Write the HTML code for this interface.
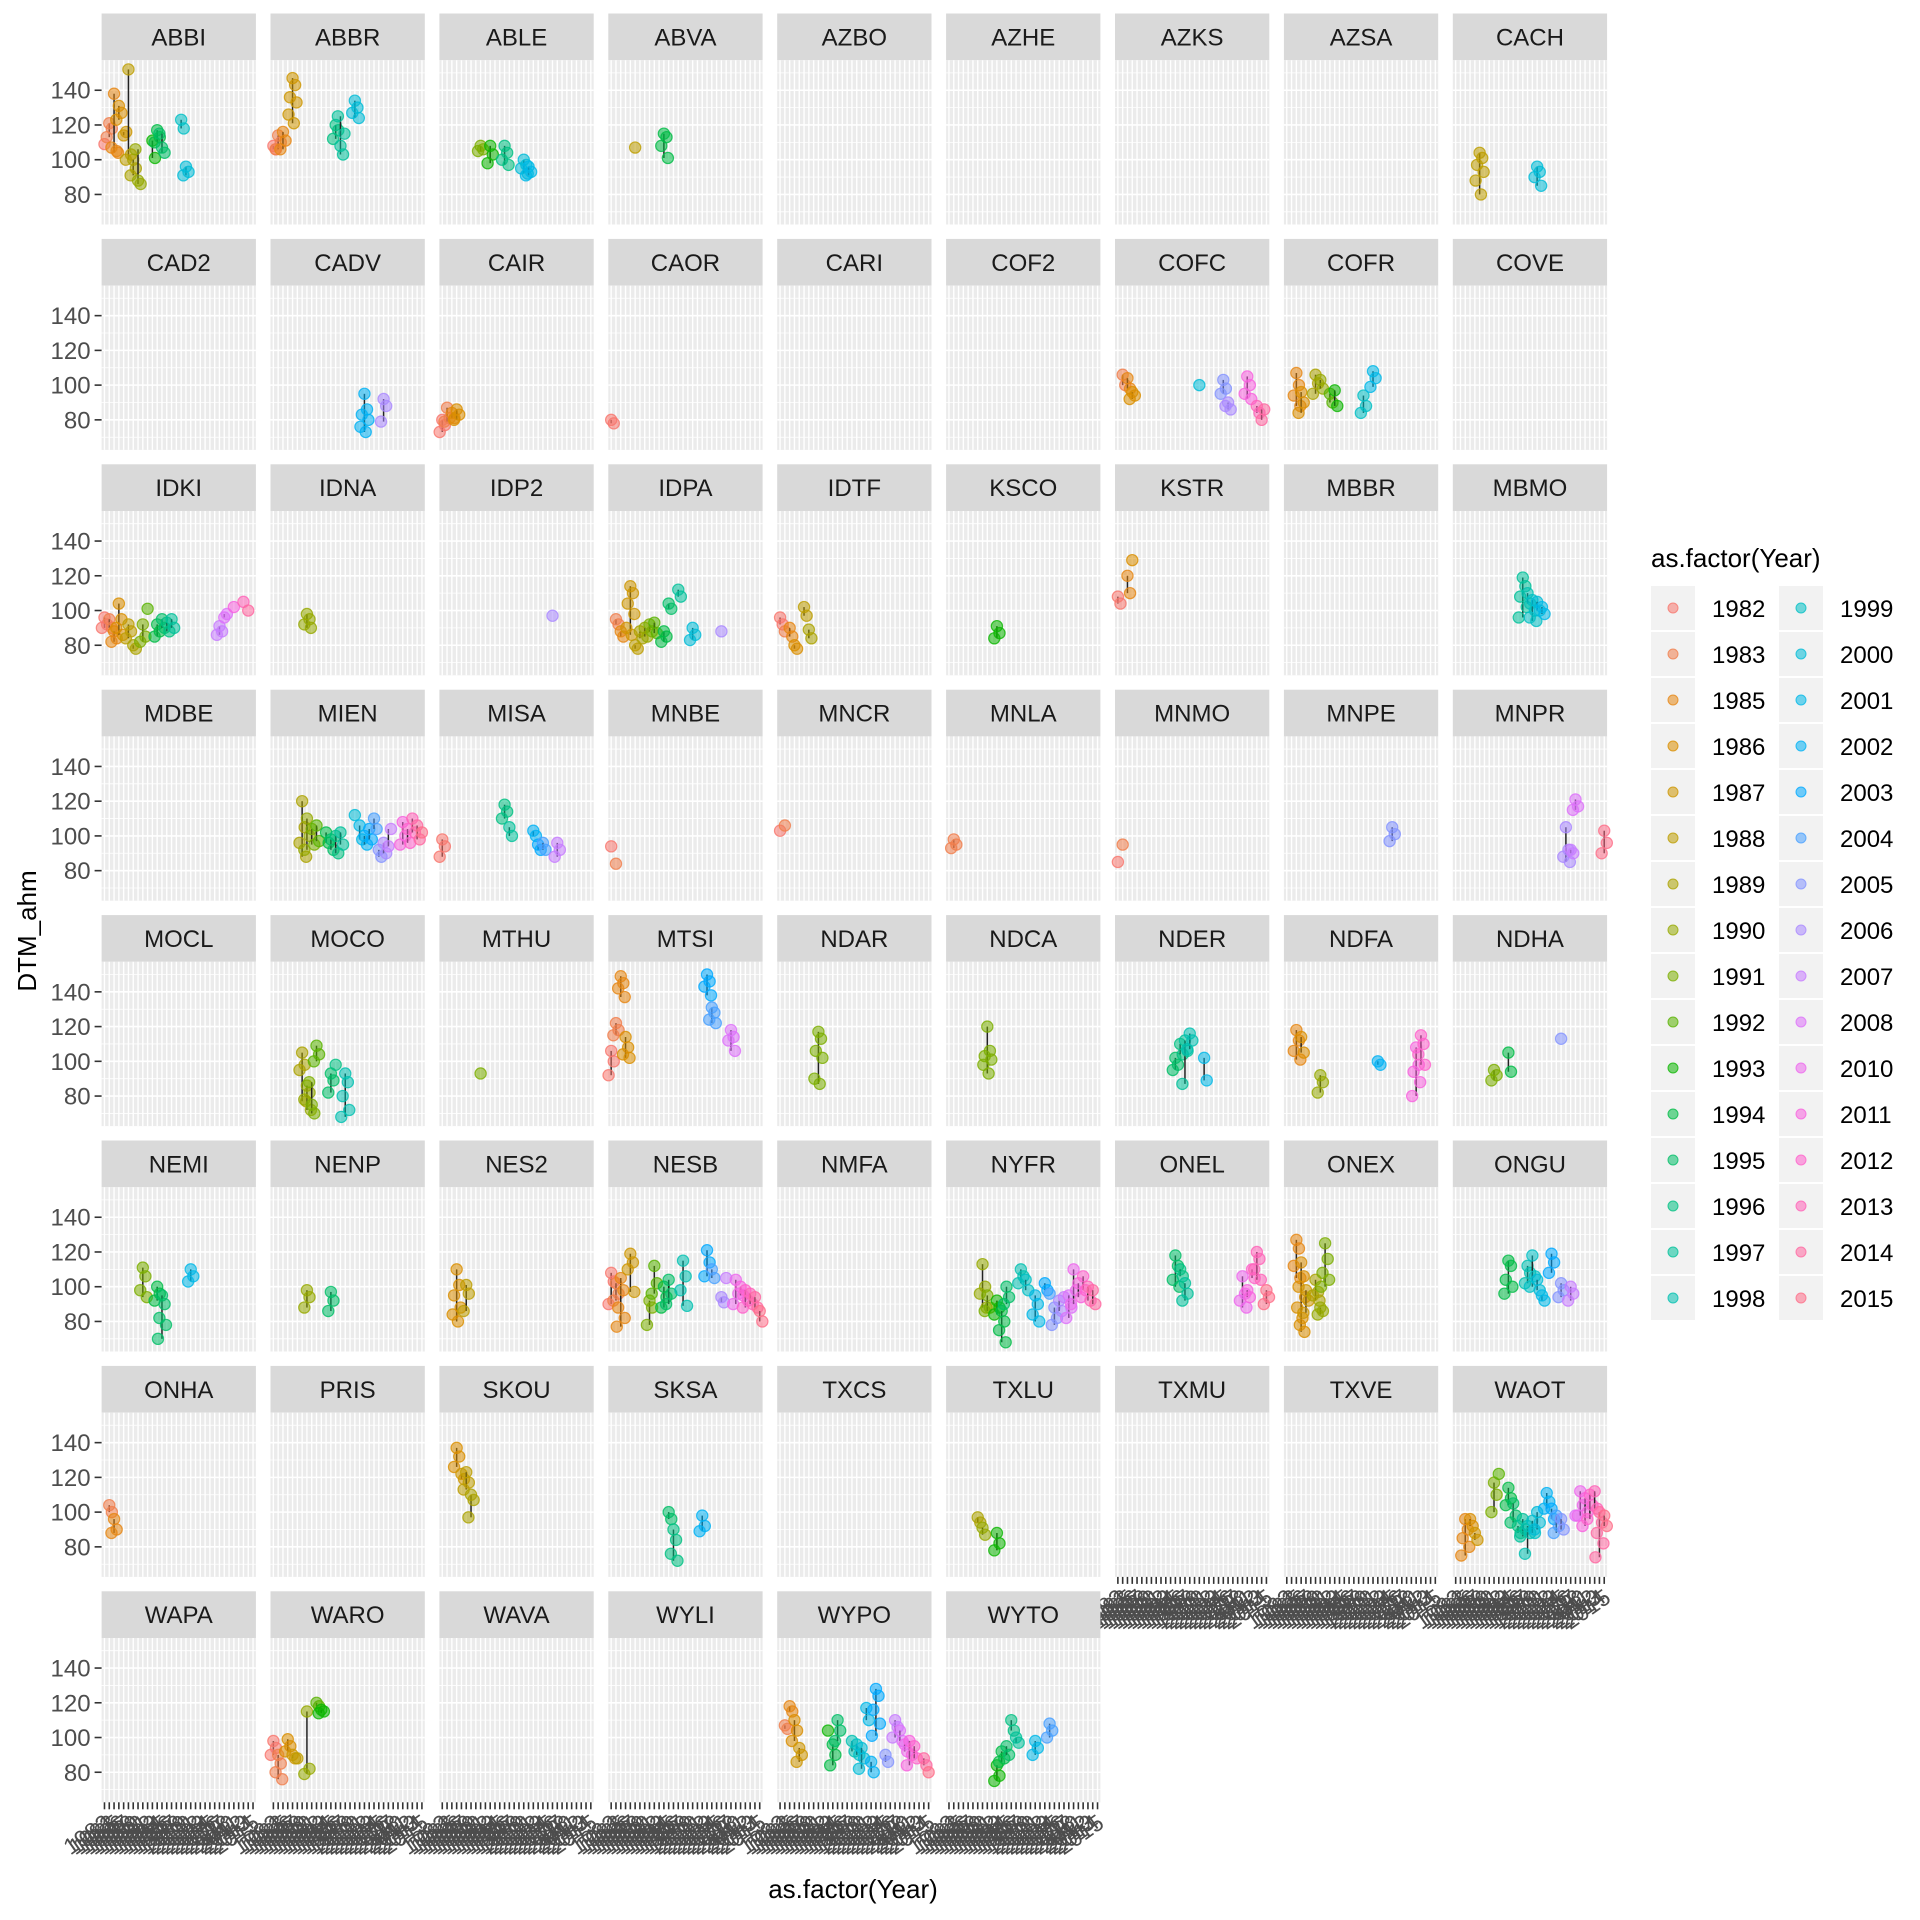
<!DOCTYPE html>
<html>
<head>
<meta charset="utf-8">
<style>
html,body{margin:0;padding:0;background:#fff;}
svg{display:block;font-family:"Liberation Sans",Arial,sans-serif;}
</style>
</head>
<body>
<svg id="chart" width="1920" height="1920" viewBox="0 0 1920 1920" xmlns="http://www.w3.org/2000/svg">
  <rect x="0" y="0" width="1920" height="1920" fill="#ffffff"/>
  <g id="panels"></g>
  <text x="853" y="1898" font-size="26" text-anchor="middle" fill="#000">as.factor(Year)</text>
  <text x="0" y="0" font-size="26" text-anchor="middle" fill="#000" transform="translate(36,931) rotate(-90)">DTM_ahm</text>
  <g id="legend">
    <text x="1651" y="567" font-size="26" fill="#000">as.factor(Year)</text>
  </g>
</svg>
<script>
const years = [1982,1983,1985,1986,1987,1988,1989,1990,1991,1992,1993,1994,1995,1996,1997,1998,1999,2000,2001,2002,2003,2004,2005,2006,2007,2008,2010,2011,2012,2013,2014,2015];
const stations = [
 "ABBI","ABBR","ABLE","ABVA","AZBO","AZHE","AZKS","AZSA","CACH",
 "CAD2","CADV","CAIR","CAOR","CARI","COF2","COFC","COFR","COVE",
 "IDKI","IDNA","IDP2","IDPA","IDTF","KSCO","KSTR","MBBR","MBMO",
 "MDBE","MIEN","MISA","MNBE","MNCR","MNLA","MNMO","MNPE","MNPR",
 "MOCL","MOCO","MTHU","MTSI","NDAR","NDCA","NDER","NDFA","NDHA",
 "NEMI","NENP","NES2","NESB","NMFA","NYFR","ONEL","ONEX","ONGU",
 "ONHA","PRIS","SKOU","SKSA","TXCS","TXLU","TXMU","TXVE","WAOT",
 "WAPA","WARO","WAVA","WYLI","WYPO","WYTO"];
const yTicks = [80,100,120,140];
const yMinor = [70,90,110,130,150];
const obs = {
 ABBI:[[1982,[109]],[1983,[121,118,113]],[1985,[138,105,107,104]],[1986,[131,127,123]],[1987,[114,116]],[1988,[152,103,100]],[1989,[100,95,91]],[1990,[88,86,106]],[1993,[111,101]],[1994,[117,113,110]],[1995,[107,104,115]],[1999,[123,118]],[2000,[96,93,91]]],
 ABBR:[[1982,[108,106]],[1983,[114,110,106]],[1985,[116,111,106]],[1987,[147,143,136,133,126,121]],[1996,[120,117,112]],[1997,[108,103,125,115]],[2000,[134,130,127,124]]],
 ABLE:[[1991,[108,106,105]],[1993,[108,103,98]],[1996,[108,104,100,97]],[2000,[100,97,95,92]],[2001,[96,93,91]]],
 ABVA:[[1988,[107]],[1994,[115,113,108,101]]],
 CACH:[[1988,[104,101,97,93,88,80]],[2000,[96,93,90,85]]],
 CADV:[[2002,[95,86,83,80,76,73]],[2006,[92,88,79]]],
 CAIR:[[1982,[80,77,73]],[1983,[87,81,79]],[1985,[84,81]],[1986,[86,83,80]]],
 CAOR:[[1982,[80,78]]],
 COFC:[[1983,[106,100]],[1985,[104,98]],[1986,[96,94,92]],[2000,[100]],[2005,[103,98,95]],[2006,[90,86,88]],[2011,[105,100,95,92]],[2013,[88,84]],[2014,[80,86]]],
 COFR:[[1985,[107,100,94,88]],[1986,[96,90,84]],[1989,[106,101,95]],[1990,[103,98]],[1992,[95,90]],[1993,[97,88]],[1999,[94,88,84]],[2001,[108,104,99]]],
 IDKI:[[1982,[96,92,90]],[1983,[95,90]],[1985,[88,84,82]],[1986,[104,95,90,86]],[1988,[92,88,84]],[1989,[80,78]],[1991,[92,85,82]],[1992,[101]],[1994,[92,88,85]],[1995,[95,90]],[1996,[93,88]],[1997,[95,90]],[2007,[91,88,86]],[2008,[96,98]],[2011,[102]],[2013,[105]],[2014,[100]]],
 IDNA:[[1990,[98,95,92,90]]],
 IDP2:[[2006,[97]]],
 IDPA:[[1983,[95,92]],[1985,[88,85]],[1987,[114,110,104,98,90,86]],[1988,[80,78]],[1989,[88,84]],[1990,[90,85]],[1991,[92,88]],[1992,[93,87]],[1994,[88,85,82]],[1995,[104,101]],[1997,[112,108]],[2000,[90,86,83]],[2006,[88]]],
 IDTF:[[1982,[96,92]],[1983,[88]],[1985,[90,85]],[1986,[80,78]],[1988,[102,97]],[1989,[89,84]]],
 KSCO:[[1993,[91,87,84]]],
 KSTR:[[1982,[108,104]],[1985,[120,110]],[1986,[129]]],
 MBMO:[[1997,[119,114,108,102,96]],[1998,[110,104]],[1999,[106,100,96,94]],[2000,[105,100]],[2001,[102,98]]],
 MIEN:[[1989,[120,105,96,88]],[1990,[110,100,92]],[1991,[104,95]],[1992,[106,97]],[1994,[102,96]],[1995,[98,92]],[1996,[100,90]],[1997,[102,95]],[2000,[112]],[2001,[106,98]],[2002,[100,95]],[2003,[104,98]],[2004,[110,104]],[2005,[92,88]],[2006,[96,90]],[2007,[94,104]],[2011,[108,100,95]],[2012,[104,96]],[2013,[110,102]],[2014,[106,98]],[2015,[102]]],
 MISA:[[1982,[98,94,88]],[1996,[118,114,110]],[1997,[105,100]],[2002,[103,100]],[2003,[95,92]],[2004,[96,92]],[2007,[96,92,88]]],
 MNBE:[[1982,[94]],[1983,[84]]],
 MNCR:[[1982,[103]],[1983,[106]]],
 MNLA:[[1983,[98,95,93]]],
 MNMO:[[1982,[85]],[1983,[95]]],
 MNPE:[[2005,[105,101,97]]],
 MNPR:[[2006,[105,92,88,85]],[2007,[92,90]],[2008,[121,117,115]],[2015,[103,96,90]]],
 MOCO:[[1989,[105,98,95,77]],[1990,[86,82,78,72]],[1991,[75,70,88]],[1992,[109,104,100]],[1995,[93,89,82]],[1996,[98]],[1998,[93,88,80,72,68]]],
 MTHU:[[1991,[93]]],
 MTSI:[[1982,[106,100,92]],[1983,[122,118,115]],[1985,[149,145,142,137]],[1986,[114,108,104,102]],[2003,[150,146,143,138]],[2004,[131,128,124,122]],[2008,[118,114,112,106]]],
 NDAR:[[1991,[117,113,106,102,90,87]]],
 NDCA:[[1991,[120,106,103,101,98,93]]],
 NDER:[[1995,[102,98,95]],[1996,[110,104]],[1997,[112,106,87]],[1998,[116,112,107]],[2001,[102,89]]],
 NDFA:[[1985,[118,112,106,101]],[1986,[114,105]],[1990,[92,88,82]],[2002,[100,98]],[2011,[108,98,94,88,80]],[2012,[115,110,104,98]]],
 NDHA:[[1991,[95,92,89]],[1994,[105,94]],[2005,[113]]],
 NEMI:[[1991,[111,106,98,94]],[1994,[100,96,92]],[1995,[95,90,82,78,70]],[2001,[110,106,103]]],
 NENP:[[1990,[98,94,88]],[1995,[97,92,86]]],
 NES2:[[1986,[110,101,95,88,84,80]],[1988,[101,96,86]]],
 NESB:[[1982,[108,103,90]],[1983,[102,96,92]],[1985,[105,98,88,82,77]],[1987,[119,114,110,97]],[1991,[92,88,78]],[1992,[112,102,96]],[1994,[100,94,88]],[1995,[104,96,90]],[1998,[115,106,98,89]],[2003,[121,114,106]],[2004,[110,105]],[2006,[94,91]],[2007,[105]],[2010,[104,96,90]],[2011,[100,95]],[2012,[98,92,88]],[2013,[96,90]],[2014,[94,88]],[2015,[86,80]]],
 NYFR:[[1990,[113,100,96,88]],[1991,[95,88,86]],[1993,[92,88,84]],[1994,[86,80,75,68]],[1995,[100,94,90]],[1998,[110,106,102]],[1999,[104,98]],[2001,[95,90,84,80]],[2003,[102,98]],[2004,[96]],[2005,[88,82,78]],[2006,[92,86]],[2007,[94]],[2008,[95,88,82]],[2010,[110,98,90]],[2011,[102,94]],[2012,[106,98]],[2013,[100,92]],[2014,[98,90]]],
 ONEL:[[1995,[118,112,104,100]],[1996,[110,106]],[1997,[102,96,92]],[2010,[106,96,92,88]],[2011,[98,94]],[2012,[110,105]],[2013,[120,116,110,104]],[2015,[98,94,90]]],
 ONEX:[[1985,[127,122,112,105]],[1986,[114,106,100,94,88,82,78,74]],[1987,[98,92,85]],[1989,[104,97,95,92]],[1990,[88,86,84]],[1991,[125,116,108,104,100]]],
 ONGU:[[1994,[115,112,104,100,96]],[1998,[112,108,102]],[1999,[118,106,100]],[2000,[104,98]],[2001,[95,92]],[2003,[119,114,108]],[2005,[102,98,94]],[2007,[100,96,92]]],
 ONHA:[[1983,[104,100]],[1985,[96,90,88]]],
 SKOU:[[1986,[137,132,126]],[1987,[122,119]],[1988,[123,117,113]],[1989,[110,107,97]]],
 SKSA:[[1995,[100,96]],[1996,[90,84,76,72]],[2002,[98,92,89]]],
 TXLU:[[1989,[97,94]],[1990,[91,87]],[1993,[88,82,78]]],
 WAOT:[[1985,[96,90,85,80,75]],[1986,[96,92]],[1987,[88,84]],[1991,[117,110,100]],[1992,[122]],[1994,[114,108,104]],[1995,[105,98,94]],[1996,[92,88]],[1997,[96,90,86]],[1998,[92,88,76]],[1999,[95,88]],[2000,[100,94,90]],[2002,[111,106,102]],[2003,[102,96]],[2004,[98,92,88]],[2005,[96,90]],[2008,[98]],[2010,[112,104,98]],[2011,[108,100,92]],[2012,[110,104,96]],[2013,[112,102]],[2014,[100,94,88,82,74]],[2015,[98,92]]],
 WARO:[[1982,[98,94,90]],[1983,[90,85,80,76]],[1986,[99,95,92]],[1987,[90,88]],[1988,[88]],[1990,[115,82,79]],[1992,[120,118]],[1993,[116,115,114]]],
 WYPO:[[1983,[107,105]],[1985,[118,115]],[1986,[110,104,98]],[1987,[94,90,86]],[1993,[104]],[1994,[96,90,84]],[1995,[110,104,98]],[1998,[98,92]],[1999,[96,90]],[2000,[94,88,82]],[2001,[117,110]],[2002,[86,80]],[2003,[128,124,116,108,101]],[2005,[90,86]],[2007,[110,106,100]],[2008,[104,98]],[2010,[96,92]],[2011,[98,90,84]],[2012,[95,88]],[2014,[88,84]],[2015,[80]]],
 WYTO:[[1993,[84,78,75]],[1994,[92,88,86]],[1995,[95,90]],[1996,[110,104]],[1997,[100,97]],[2001,[98,94,90]],[2004,[108,104,100]]]
};

const NS = "http://www.w3.org/2000/svg";
const NCOL = 9, X0 = 101.6, DX = 168.9, PW = 154.3;
const Y0 = 13.5, DY = 225.4, SH = 46.7, PH = 164.3;
const YMIN = 62.7, YMAX = 157.3;

function hcl2hex(h, c, l) {
  const hr = h * Math.PI / 180;
  const u = c * Math.cos(hr), v = c * Math.sin(hr);
  const Xn = 95.047, Yn = 100, Zn = 108.883;
  const un = 4 * Xn / (Xn + 15 * Yn + 3 * Zn), vn = 9 * Yn / (Xn + 15 * Yn + 3 * Zn);
  const Y = Yn * Math.pow((l + 16) / 116, 3);
  const up = u / (13 * l) + un, vp = v / (13 * l) + vn;
  const X = 9 * Y * up / (4 * vp);
  const Z = -X / 3 - 5 * Y + 3 * Y / vp;
  const x = X / 100, y = Y / 100, z = Z / 100;
  let r = 3.240479 * x - 1.537150 * y - 0.498535 * z;
  let g = -0.969256 * x + 1.875992 * y + 0.041556 * z;
  let b = 0.055648 * x - 0.204043 * y + 1.057311 * z;
  const gam = t => { t = t <= 0.0031308 ? 12.92 * t : 1.055 * Math.pow(t, 1 / 2.4) - 0.055; return Math.max(0, Math.min(255, Math.round(t * 255))); };
  return "rgb(" + gam(r) + "," + gam(g) + "," + gam(b) + ")";
}
const palette = years.map((yr, i) => hcl2hex(15 + 360 * i / years.length, 100, 65));

function mk(tag, attrs, parent) {
  const e = document.createElementNS(NS, tag);
  for (const k in attrs) e.setAttribute(k, attrs[k]);
  if (parent) parent.appendChild(e);
  return e;
}
function xScale(c, yr) {
  const k = years.indexOf(yr);
  return X0 + c * DX + (k + 1 - 0.4) / (years.length + 0.2) * PW;
}
function yScale(r, v) {
  return Y0 + r * DY + SH + (YMAX - v) / (YMAX - YMIN) * PH;
}

const root = document.getElementById("panels");
const jit = [0, 2.6, -2.6, 4, -4, 1.3, -1.3, 3.3];

stations.forEach((st, idx) => {
  const r = Math.floor(idx / NCOL), c = idx % NCOL;
  const g = mk("g", {}, root);
  
  
  const px = X0 + c * DX, sy = Y0 + r * DY, py = sy + SH;
  const strip = mk("rect", {x: px, y: sy, width: PW, height: SH, fill: "#D9D9D9"}, g);
  
  
  const st_t = mk("text", {x: px + PW / 2, y: sy + SH / 2 + 8.5, "font-size": 24, "text-anchor": "middle", fill: "#1A1A1A"}, g);
  st_t.textContent = st;
  
  
  const bg = mk("rect", {x: px, y: py, width: PW, height: PH, fill: "#EBEBEB"}, g);
  
  
  yMinor.forEach(v => { const y = yScale(r, v); mk("line", {x1: px, x2: px + PW, y1: y, y2: y, stroke: "#fff", "stroke-width": 0.8}, g); });
  yTicks.forEach(v => { const y = yScale(r, v); mk("line", {x1: px, x2: px + PW, y1: y, y2: y, stroke: "#fff", "stroke-width": 1.6}, g); });
  years.forEach(yr => { const x = xScale(c, yr); mk("line", {x1: x, x2: x, y1: py, y2: py + PH, stroke: "#fff", "stroke-width": 1.4}, g); });
  if (c === 0) {
    yTicks.forEach(v => {
      const y = yScale(r, v);
      mk("line", {x1: px - 7, x2: px, y1: y, y2: y, stroke: "#333", "stroke-width": 1.6}, g);
      const t = mk("text", {x: px - 11, y: y + 8.5, "font-size": 24, "text-anchor": "end", fill: "#4D4D4D"}, g);
      t.textContent = v;
      
      
    });
  }
  const isBottom = (idx + NCOL >= stations.length);
  if (isBottom) {
    years.forEach(yr => {
      const x = xScale(c, yr);
      mk("line", {x1: x, x2: x, y1: py + PH, y2: py + PH + 7, stroke: "#333", "stroke-width": 1.6}, g);
      const ax = x + 8, ay = py + PH + 24;
      const t = mk("text", {x: ax, y: ay, "font-size": 23, "text-anchor": "end", fill: "#4D4D4D", transform: "rotate(-35 " + ax + " " + ay + ")"}, g);
      t.textContent = yr;
      
      
    });
  }
  const groups = obs[st] || [];
  groups.forEach(([yr, vals]) => {
    const k = years.indexOf(yr);
    const col = palette[k];
    const x = xScale(c, yr);
    if (vals.length > 1) {
      const lo = Math.min(...vals), hi = Math.max(...vals);
      const ln = mk("line", {x1: x, x2: x, y1: yScale(r, hi), y2: yScale(r, lo), stroke: "#222", "stroke-width": 1.5}, g);
      
      
    }
    vals.forEach((v, i) => {
      const pt = mk("circle", {cx: x + jit[i % jit.length], cy: yScale(r, v), r: 5.6, fill: col, "fill-opacity": 0.55, stroke: col, "stroke-opacity": 0.8, "stroke-width": 1.2}, g);
      
      
    });
  });
});

const leg = document.getElementById("legend");
years.forEach((yr, i) => {
  const colI = i < 16 ? 0 : 1, rowI = i < 16 ? i : i - 16;
  const kx = 1651 + colI * 128, ky = 586 + rowI * 46;
  const g = mk("g", {}, leg);
  
  
  mk("rect", {x: kx, y: ky, width: 44, height: 44, fill: "#F2F2F2"}, g);
  mk("circle", {cx: kx + 22, cy: ky + 22, r: 5, fill: palette[i], "fill-opacity": 0.55, stroke: palette[i], "stroke-opacity": 0.8, "stroke-width": 1}, g);
  const t = mk("text", {x: kx + 61, y: ky + 31, "font-size": 24, fill: "#000"}, g);
  t.textContent = yr;
  
  
});
</script>
</body>
</html>
